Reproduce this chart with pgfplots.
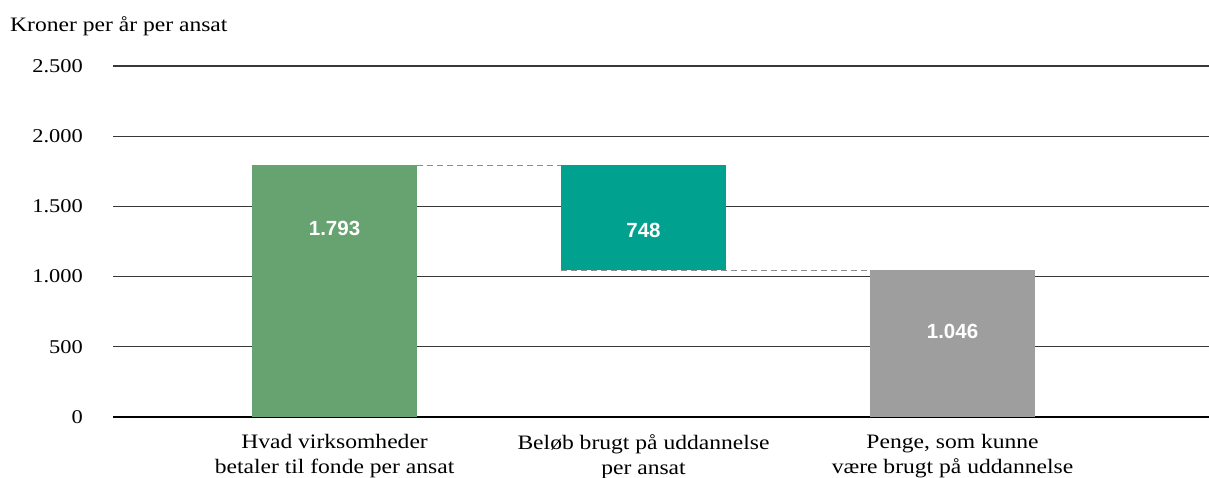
\documentclass[border=0pt]{standalone}
\usepackage{pgfplots}
\pgfplotsset{compat=1.18}
\usepackage{fontspec}
\setmainfont{Liberation Serif}[FakeStretch=1.15]
\newfontfamily\barfont{Liberation Sans}
\definecolor{cgreen}{RGB}{102,163,112}
\definecolor{cteal}{RGB}{0,161,143}
\definecolor{cgray}{RGB}{158,158,158}
\begin{document}
\begin{tikzpicture}[x=1pt,y=1pt]
\path[use as bounding box] (0,0) rectangle (1209,477);
\node[anchor=base west, inner sep=0pt, font=\fontsize{20.5}{24}\selectfont] at (10,445) {Kroner per år per ansat};
\begin{axis}[
  at={(113pt,60pt)}, anchor=south west,
  scale only axis, width=1096pt, height=351pt,
  xmin=-0.717, xmax=2.83, ymin=0, ymax=2500,
  ybar stacked, bar width=0.534,
  axis line style={draw=none},
  xtick={0,1,2},
  xticklabels={{Hvad virksomheder\\betaler til fonde per ansat},{Beløb brugt på uddannelse\\per ansat},{Penge, som kunne\\være brugt på uddannelse}},
  ytick={500,1000,1500,2000,2500},
  yticklabels={500,1.000,1.500,2.000,2.500},
  extra y ticks={0}, extra y tick labels={0},
  extra y tick style={grid=major, grid style={black, line width=2.4pt}},
  ymajorgrids, grid style={black!78, line width=1.1pt},
  major tick length=0pt,
  yticklabel style={font=\fontsize{19.5}{24}\selectfont, anchor=east, inner sep=0pt, xshift=-30pt},
  xticklabel style={font=\fontsize{20.5}{25}\selectfont, align=center, anchor=north, inner sep=0pt, yshift=-17pt},
  clip=false,
]
\addplot[fill=none, draw=none] coordinates {(0,0) (1,1046) (2,0)};
\addplot[fill=cgreen, draw=none] coordinates {(0,1793) (1,0) (2,0)};
\addplot[fill=cteal, draw=none] coordinates {(0,0) (1,748) (2,0)};
\addplot[fill=cgray, draw=none] coordinates {(0,0) (1,0) (2,1046)};
\addplot[sharp plot, stack plots=false, forget plot, draw=black!45, line width=1pt, dash pattern=on 6pt off 4pt] coordinates {(0.267,1793) (1.267,1793)};
\addplot[sharp plot, stack plots=false, forget plot, draw=black!45, line width=1pt, dash pattern=on 6pt off 4pt] coordinates {(0.733,1046) (2.267,1046)};
\coordinate (l1) at (axis cs:0,1340);
\coordinate (l2) at (axis cs:1,1330);
\coordinate (l3) at (axis cs:2,612);
\end{axis}
\node[text=white, font=\barfont\bfseries\fontsize{20.5}{22}\selectfont] at (l1) {1.793};
\node[text=white, font=\barfont\bfseries\fontsize{20.5}{22}\selectfont] at (l2) {748};
\node[text=white, font=\barfont\bfseries\fontsize{20.5}{22}\selectfont] at (l3) {1.046};
\end{tikzpicture}
\end{document}
